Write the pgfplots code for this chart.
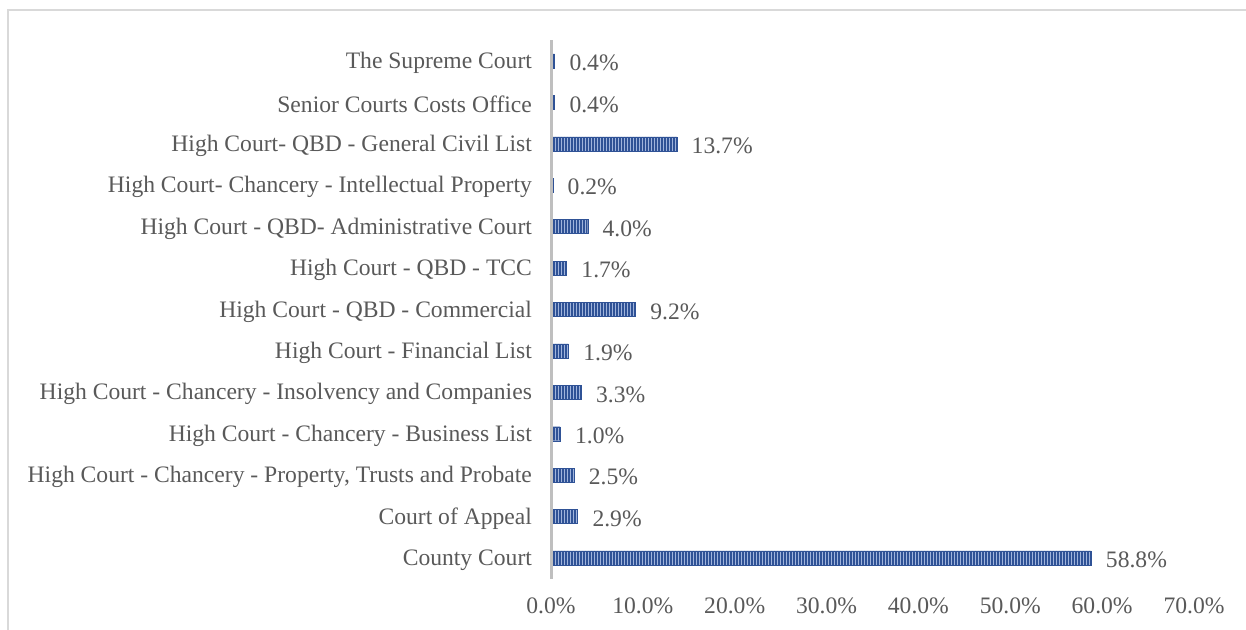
\documentclass[border=0pt]{standalone}
\usepackage{pgfplots}
\pgfplotsset{compat=1.18}
\usepackage{fontspec}
\setmainfont{Liberation Serif}
\usetikzlibrary{patterns.meta}
\definecolor{barblue}{RGB}{47,82,150}
\definecolor{stripe}{RGB}{160,180,220}
\definecolor{txt}{RGB}{89,89,89}
\begin{document}
\begin{tikzpicture}
\path[use as bounding box] (0,0) rectangle (623pt,315pt);
\draw[black!15, line width=0.6pt] (4pt,0) -- (4pt,310pt) -- (623pt,310pt);
\begin{axis}[
  at={(275.5pt,25.65pt)}, anchor=south west,
  scale only axis, width=321.5pt, height=269.2pt,
  xbar, bar width=7pt,
  xmin=0, xmax=70, ymin=-0.5, ymax=12.5,
  axis line style={draw=none},
  major tick length=0pt,
  xtick={0,10,...,70},
  xticklabels={0.0\%,10.0\%,20.0\%,30.0\%,40.0\%,50.0\%,60.0\%,70.0\%},
  ytick={0,...,12},
  yticklabels={County Court, Court of Appeal, {High Court - Chancery - Property, Trusts and Probate}, High Court - Chancery - Business List, High Court - Chancery - Insolvency and Companies, High Court - Financial List, High Court - QBD - Commercial, High Court - QBD - TCC, High Court - QBD- Administrative Court, High Court- Chancery - Intellectual Property, High Court- QBD - General Civil List, Senior Courts Costs Office, The Supreme Court},
  tick label style={font=\fontsize{11.8pt}{13pt}\selectfont, text=txt},
  yticklabel style={xshift=-6pt, yshift=-1pt},
  xticklabel style={yshift=-6pt},
  nodes near coords={\pgfmathprintnumber[fixed,fixed zerofill,precision=1]{\pgfplotspointmeta}\%},
  nodes near coords style={font=\fontsize{11.8pt}{13pt}\selectfont, text=txt, anchor=west, xshift=4pt, yshift=-1pt},
  /pgf/number format/assume math mode=true,
  clip=false,
]
\addplot[draw=barblue, line width=0.2pt, fill=barblue, postaction={pattern={Lines[angle=90,distance=1.5pt,line width=0.45pt]}, pattern color=stripe}] coordinates {
(58.8,0) (2.9,1) (2.5,2) (1.0,3) (3.3,4) (1.9,5) (9.2,6) (1.7,7) (4.0,8) (0.2,9) (13.7,10) (0.4,11) (0.4,12)
};
\draw[black!25, line width=1.5pt] (axis cs:0,-0.5) -- (axis cs:0,12.5);
\end{axis}
\end{tikzpicture}
\end{document}
